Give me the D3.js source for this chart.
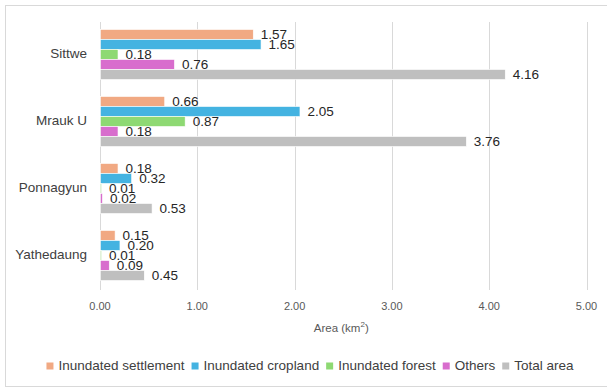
<!DOCTYPE html>
<html>
<head>
<meta charset="utf-8">
<script src="https://cdn.jsdelivr.net/npm/d3@7"></script>
<style>
  html, body { margin: 0; padding: 0; background: #fff; }
  svg { display: block; font-family: "Liberation Sans", Arial, sans-serif; }
</style>
</head>
<body>
<svg id="chart" width="607" height="390"></svg>
<script>
// Townships shown on the vertical axis, top to bottom
const townships = ["Sittwe", "Mrauk U", "Ponnagyun", "Yathedaung"];

// Land-cover classes (drawn top to bottom inside each township group)
const seriesNames = ["Inundated settlement", "Inundated cropland", "Inundated forest", "Others", "Total area"];
const seriesColors = ["#F1A983", "#44B3E1", "#8ED973", "#D86DCD", "#BFBFBF"];

// Areas in km², one array per class, in township order
const inundatedSettlement = [1.57, 0.66, 0.18, 0.15];
const inundatedCropland   = [1.65, 2.05, 0.32, 0.20];
const inundatedForest     = [0.18, 0.87, 0.01, 0.01];
const others              = [0.76, 0.18, 0.02, 0.09];
const totalArea           = [4.16, 3.76, 0.53, 0.45];

const xTicks = [0, 1, 2, 3, 4, 5];

const seriesValues = [inundatedSettlement, inundatedCropland, inundatedForest, others, totalArea];

const svg = d3.select("#chart");

// Outer chart border
svg.append("rect")
  .attr("x", 5.5).attr("y", 5.5)
  .attr("width", 610).attr("height", 381)
  .attr("fill", "#fff").attr("stroke", "#D9D9D9").attr("stroke-width", 1);

const plot = { left: 100, right: 586.5, top: 22, bottom: 290 };

const x = d3.scaleLinear().domain([0, 5]).range([plot.left, plot.right]);
const y = d3.scaleBand().domain(townships).range([plot.top, plot.bottom]).paddingInner(0).paddingOuter(0);

const groupH = 50;
const inner = d3.scaleBand().domain(seriesNames).range([0, groupH]).padding(0);

// Vertical gridlines
svg.append("g").selectAll("line")
  .data(xTicks).join("line")
  .attr("x1", d => Math.round(x(d)) + 0.5).attr("x2", d => Math.round(x(d)) + 0.5)
  .attr("y1", plot.top).attr("y2", plot.bottom)
  .attr("stroke", "#D9D9D9").attr("stroke-width", 1);

// X tick labels
svg.append("g").selectAll("text")
  .data(xTicks).join("text")
  .attr("x", d => x(d)).attr("y", 307)
  .attr("text-anchor", "middle").attr("dominant-baseline", "middle")
  .attr("font-size", 11).attr("fill", "#595959")
  .text(d => d3.format(".2f")(d));

// Axis title
const title = svg.append("text")
  .attr("x", (plot.left + plot.right) / 2 - 2).attr("y", 329)
  .attr("text-anchor", "middle").attr("dominant-baseline", "middle")
  .attr("font-size", 11.5).attr("fill", "#595959");
title.append("tspan").text("Area (km");
title.append("tspan").attr("baseline-shift", "super").attr("font-size", 8).text("2");
title.append("tspan").text(")");

// Category labels
svg.append("g").selectAll("text")
  .data(townships).join("text")
  .attr("x", 87).attr("y", d => y(d) + y.bandwidth() / 2 - 1)
  .attr("text-anchor", "end").attr("dominant-baseline", "middle")
  .attr("font-size", 13.5).attr("fill", "#404040")
  .text(d => d);

// Bars and value labels
const rows = [];
townships.forEach((t, i) => {
  seriesNames.forEach((s, j) => {
    rows.push({ township: t, series: s, color: seriesColors[j], value: seriesValues[j][i] });
  });
});

const groupTop = t => y(t) + (y.bandwidth() - groupH) / 2 - 1;

svg.append("g").selectAll("rect")
  .data(rows).join("rect")
  .attr("x", x(0) + 0.5)
  .attr("y", d => groupTop(d.township) + inner(d.series))
  .attr("width", d => Math.max(0, x(d.value) - x(0)))
  .attr("height", inner.bandwidth())
  .attr("fill", d => d.color)
  .attr("stroke", "#fff").attr("stroke-width", 0.6);

svg.append("g").selectAll("text")
  .data(rows).join("text")
  .attr("x", d => x(d.value) + 8)
  .attr("y", d => groupTop(d.township) + inner(d.series) + inner.bandwidth() / 2 + 1)
  .attr("dominant-baseline", "middle")
  .attr("font-size", 13.5).attr("fill", "#262626")
  .text(d => d3.format(".2f")(d.value));

// Legend
const legend = svg.append("g");
const lgY = 366;
const items = legend.selectAll("g").data(seriesNames).join("g");
items.append("rect")
  .attr("width", 7).attr("height", 7).attr("y", lgY - 3.5)
  .attr("fill", (d, i) => seriesColors[i]);
items.append("text")
  .attr("x", 12).attr("y", lgY)
  .attr("dominant-baseline", "middle")
  .attr("font-size", 13.5).attr("fill", "#404040")
  .text(d => d);
let cx = 0;
const offsets = [];
items.each(function () {
  const w = this.querySelector("text").getComputedTextLength() + 12;
  offsets.push(cx);
  cx += w + 7;
});
const totalW = cx - 7;
const startX = 310 - totalW / 2;
items.attr("transform", (d, i) => `translate(${startX + offsets[i]},0)`);
</script>
</body>
</html>
